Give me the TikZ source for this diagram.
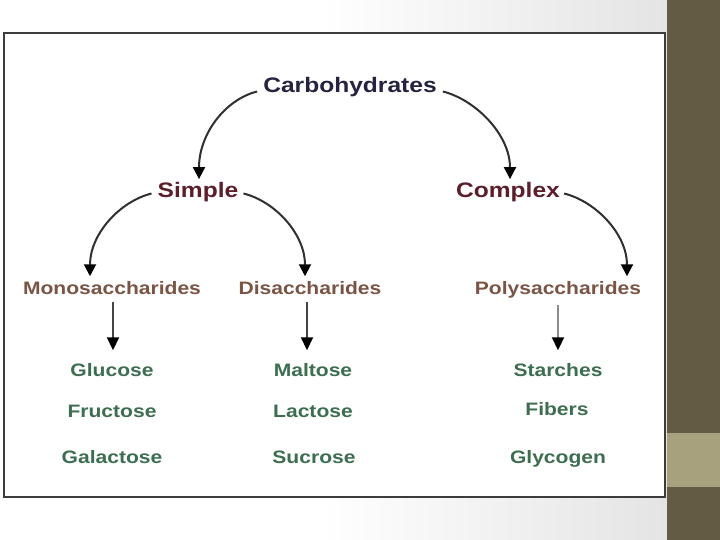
\documentclass[tikz,border=0pt]{standalone}
\usepackage{fontspec}
\setmainfont[FakeStretch=1.17]{Liberation Sans}
\usetikzlibrary{arrows.meta,calc}
\definecolor{navytxt}{HTML}{25233F}
\definecolor{maroontxt}{HTML}{5B1E2B}
\definecolor{browntxt}{HTML}{7A5444}
\definecolor{greentxt}{HTML}{3D6E50}
\definecolor{barcol}{HTML}{645B45}
\definecolor{barlight}{HTML}{A8A17D}
\definecolor{bggray}{HTML}{E4E4E4}
\definecolor{boxline}{HTML}{3C3C3C}
\definecolor{linecol}{HTML}{2F2F2F}
\begin{document}
\begin{tikzpicture}[x=1pt,y=-1pt,
  lone/.style={font=\bfseries\fontsize{21}{25}\selectfont, text=navytxt, inner sep=0pt, anchor=base},
  ltwo/.style={font=\bfseries\fontsize{21}{25}\selectfont, text=maroontxt, inner sep=0pt, anchor=base},
  lthree/.style={font=\bfseries\fontsize{18}{22}\selectfont, text=browntxt, inner sep=0pt, anchor=base},
  lfour/.style={font=\bfseries\fontsize{18}{22}\selectfont, text=greentxt, inner sep=0pt, anchor=base},
  carr/.style={draw=linecol, line width=2pt, -{Triangle[width=12pt,length=12pt,color=black]}},
  varr/.style={draw=linecol!90, line width=2pt, -{Triangle[width=12pt,length=13pt,color=black]}},
  garr/.style={draw=black!45, line width=2.2pt, -{Triangle[width=12pt,length=13pt,color=black]}}
]
\useasboundingbox (0,0) rectangle (720,540);
\fill[white] (0,0) rectangle (720,540);
\shade[left color=white, right color=bggray] (320,0) rectangle (667,540);
\fill[barcol] (667,0) rectangle (720,540);
\fill[barlight] (667,433) rectangle (720,487);
\draw[boxline, line width=2.4pt, fill=white] (4,33) rectangle (665,497);

\node[lone] (carb) at (350,92.5) {Carbohydrates};
\node[ltwo] (simple) at (198,197.5) {Simple};
\node[ltwo] (complex) at (508,197.5) {Complex};
\node[lthree] (mono) at (112,294.5) {Monosaccharides};
\node[lthree] (di) at (310,294.5) {Disaccharides};
\node[lthree] (poly) at (558,294.5) {Polysaccharides};
\node[lfour] (glu) at (112,376.5) {Glucose};
\node[lfour] (fru) at (112,417.5) {Fructose};
\node[lfour] (gal) at (112,463.5) {Galactose};
\node[lfour] (mal) at (313,376.5) {Maltose};
\node[lfour] (lac) at (313,417.5) {Lactose};
\node[lfour] (suc) at (314,463.5) {Sucrose};
\node[lfour] (sta) at (558,376.5) {Starches};
\node[lfour] (fib) at (557,415.5) {Fibers};
\node[lfour] (gly) at (558,463.5) {Glycogen};

\draw[carr] ($(carb.base west)+(-6,-1)$) .. controls +(-32,8) and +(0,-45) .. ($(simple.north)+(1,-3)$);
\draw[carr] ($(carb.base east)+(6,-1)$) .. controls +(32,8) and +(0,-45) .. ($(complex.north)+(2,-3)$);
\draw[carr] ($(simple.base west)+(-6,-4)$) .. controls +(-32,8) and +(0,-42) .. ($(mono.north)+(-22,-5)$);
\draw[carr] ($(simple.base east)+(5,-4)$) .. controls +(32,8) and +(0,-42) .. ($(di.north)+(-5,-5)$);
\draw[carr] ($(complex.base east)+(4,-4)$) .. controls +(32,8) and +(0,-42) .. ($(poly.north)+(69,-5)$);

\draw[varr] ($(mono.south)+(1,7)$) -- ($(mono.south |- glu.north)+(1,-13)$);
\draw[varr] ($(di.south)+(-3,7)$) -- ($(di.south |- mal.north)+(-3,-13)$);
\draw[garr] ($(poly.south)+(0,7)$) -- ($(poly.south |- sta.north)+(0,-13)$);
\end{tikzpicture}
\end{document}
